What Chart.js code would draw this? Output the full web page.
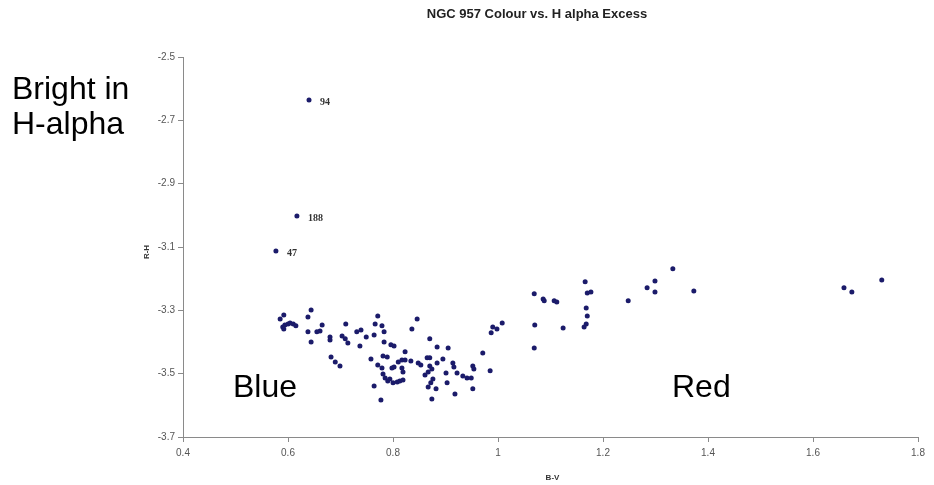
<!DOCTYPE html>
<html>
<head>
<meta charset="utf-8">
<script src="https://cdn.jsdelivr.net/npm/chart.js@4.4.1/dist/chart.umd.min.js"></script>
<style>
  html, body { margin: 0; padding: 0; background: #ffffff; }
  #wrap { width: 934px; height: 485px; position: relative; }
</style>
</head>
<body>
<div id="wrap"><canvas id="c" width="934" height="485"></canvas></div>
<script>
// ---- Data ----
const chartTitle = "NGC 957 Colour vs. H alpha Excess";
const xAxisTitle = "B-V";
const yAxisTitle = "R-H";

// Labelled stars
const namedStars = ["94", "188", "47"];
const namedBV    = [0.640, 0.617, 0.577];
const namedRH    = [-2.636, -3.002, -3.113];

// All other stars: B-V colour
const starBV = [
  0.592, 0.585, 0.590, 0.594, 0.600, 0.604, 0.610, 0.615, 0.592, 0.644,
  0.638, 0.638, 0.644, 0.665, 0.661, 0.655, 0.680, 0.680, 0.710, 0.703,
  0.709, 0.714, 0.682, 0.690, 0.699, 0.731, 0.739, 0.749, 0.737, 0.771,
  0.766, 0.779, 0.783, 0.764, 0.783, 0.796, 0.802, 0.758, 0.781, 0.789,
  0.771, 0.779, 0.798, 0.802, 0.781, 0.785, 0.790, 0.794, 0.800, 0.808,
  0.813, 0.819, 0.764, 0.777, 0.810, 0.817, 0.823, 0.834, 0.848, 0.853,
  0.817, 0.819, 0.823, 0.846, 0.836, 0.870, 0.884, 0.905, 0.865, 0.870,
  0.884, 0.895, 0.914, 0.916, 0.952, 0.954, 0.870, 0.874, 0.867, 0.861,
  0.901, 0.922, 0.933, 0.941, 0.949, 0.876, 0.872, 0.903, 0.867, 0.882,
  0.952, 0.918, 0.874, 0.971, 0.985, 0.987, 0.990, 0.998, 1.008, 1.069,
  1.086, 1.088, 1.107, 1.112, 1.070, 1.069, 1.124, 1.166, 1.170, 1.177,
  1.168, 1.170, 1.168, 1.164, 1.248, 1.284, 1.299, 1.299, 1.333, 1.373,
  1.659, 1.674, 1.731
];
// All other stars: R-H (H alpha excess)
const starRH = [
  -3.315, -3.327, -3.353, -3.346, -3.343, -3.340, -3.343, -3.349, -3.359, -3.299,
  -3.321, -3.368, -3.400, -3.346, -3.365, -3.368, -3.384, -3.394, -3.343, -3.381,
  -3.390, -3.403, -3.447, -3.463, -3.476, -3.368, -3.362, -3.384, -3.413, -3.318,
  -3.343, -3.349, -3.368, -3.378, -3.400, -3.409, -3.413, -3.454, -3.444, -3.447,
  -3.473, -3.482, -3.482, -3.479, -3.501, -3.514, -3.523, -3.517, -3.529, -3.526,
  -3.523, -3.520, -3.539, -3.583, -3.463, -3.457, -3.457, -3.460, -3.466, -3.473,
  -3.482, -3.495, -3.431, -3.327, -3.359, -3.390, -3.416, -3.419, -3.450, -3.450,
  -3.466, -3.454, -3.466, -3.479, -3.476, -3.485, -3.476, -3.485, -3.495, -3.504,
  -3.498, -3.498, -3.507, -3.514, -3.514, -3.517, -3.529, -3.529, -3.542, -3.548,
  -3.548, -3.564, -3.580, -3.435, -3.491, -3.371, -3.353, -3.359, -3.340, -3.248,
  -3.264, -3.270, -3.270, -3.274, -3.346, -3.419, -3.356, -3.210, -3.245, -3.242,
  -3.293, -3.318, -3.343, -3.353, -3.270, -3.229, -3.207, -3.242, -3.169, -3.239,
  -3.229, -3.242, -3.204
];

const xTicksMin = 0.4, xTicksMax = 1.8, xStep = 0.2;
const yTicksMin = -3.7, yTicksMax = -2.5, yStep = 0.2;

// Region annotations
const annotations = [
  { text: "Bright in", x: 12, y: 99 },
  { text: "H-alpha",  x: 12, y: 134 },
  { text: "Blue",     x: 233, y: 397 },
  { text: "Red",      x: 672, y: 397 }
];

// ---- Build datasets ----
const mainPoints = starBV.map((v, i) => ({ x: v, y: starRH[i] }));
const namedPoints = namedBV.map((v, i) => ({ x: v, y: namedRH[i] }));

const markerColor = "#1b1b6a";
const axisColor = "#8a8a8a";
const tickFont = { family: "'Liberation Sans', Arial, sans-serif", size: 10 };

const labelsPlugin = {
  id: "decor",
  afterDatasetsDraw(chart) {
    const ctx = chart.ctx;
    const meta = chart.getDatasetMeta(1);
    ctx.save();
    ctx.fillStyle = "#333333";
    ctx.font = "bold 10px 'Liberation Serif', 'Times New Roman', serif";
    ctx.textBaseline = "middle";
    ctx.textAlign = "left";
    meta.data.forEach((el, i) => {
      ctx.fillText(namedStars[i], el.x + 11, el.y + 2);
    });
    ctx.restore();
  },
  afterDraw(chart) {
    const ctx = chart.ctx;
    const area = chart.chartArea;
    ctx.save();
    // chart title
    ctx.fillStyle = "#222222";
    ctx.font = "bold 13px 'Liberation Sans', Arial, sans-serif";
    ctx.textAlign = "center";
    ctx.textBaseline = "middle";
    ctx.fillText(chartTitle, 537, 14);
    // axis titles
    ctx.font = "bold 8px 'Liberation Sans', Arial, sans-serif";
    ctx.fillStyle = "#333333";
    ctx.fillText(xAxisTitle, (area.left + area.right) / 2 + 2, 478);
    ctx.save();
    ctx.translate(147, (area.top + area.bottom) / 2 + 5);
    ctx.rotate(-Math.PI / 2);
    ctx.fillText(yAxisTitle, 0, 0);
    ctx.restore();
    // big annotations
    ctx.fillStyle = "#000000";
    ctx.font = "32px 'Liberation Sans', Arial, Helvetica, sans-serif";
    ctx.textAlign = "left";
    ctx.textBaseline = "alphabetic";
    annotations.forEach(a => ctx.fillText(a.text, a.x, a.y));
    ctx.restore();
  }
};

new Chart(document.getElementById("c"), {
  type: "scatter",
  data: {
    datasets: [
      {
        label: "stars",
        data: mainPoints,
        pointStyle: "circle",
        pointRadius: 2.5,
        pointBorderWidth: 0,
        backgroundColor: markerColor,
        borderColor: markerColor
      },
      {
        label: "named stars",
        data: namedPoints,
        pointStyle: "circle",
        pointRadius: 2.5,
        pointBorderWidth: 0,
        backgroundColor: markerColor,
        borderColor: markerColor
      }
    ]
  },
  options: {
    responsive: false,
    animation: false,
    devicePixelRatio: 1,
    layout: { padding: { left: 0, right: 16, top: 57, bottom: 0 } },
    plugins: {
      legend: { display: false },
      tooltip: { enabled: false },
      title: { display: false }
    },
    scales: {
      x: {
        type: "linear",
        min: xTicksMin,
        max: xTicksMax,
        afterFit(scale) { scale.height = 48; },
        ticks: {
          stepSize: xStep,
          color: "#555555",
          font: tickFont,
          padding: 5,
          maxRotation: 0,
          callback: v => String(parseFloat(Number(v).toFixed(1)))
        },
        grid: {
          display: true,
          drawOnChartArea: false,
          drawTicks: true,
          tickLength: 5,
          color: axisColor
        },
        border: { display: true, color: axisColor, width: 1 }
      },
      y: {
        type: "linear",
        min: yTicksMin,
        max: yTicksMax,
        afterFit(scale) { scale.width = 183; },
        ticks: {
          stepSize: yStep,
          color: "#555555",
          font: tickFont,
          padding: 3,
          callback: v => Number(v).toFixed(1)
        },
        grid: {
          display: true,
          drawOnChartArea: false,
          drawTicks: true,
          tickLength: 5,
          color: axisColor
        },
        border: { display: true, color: axisColor, width: 1 }
      }
    }
  },
  plugins: [labelsPlugin]
});
</script>
</body>
</html>
